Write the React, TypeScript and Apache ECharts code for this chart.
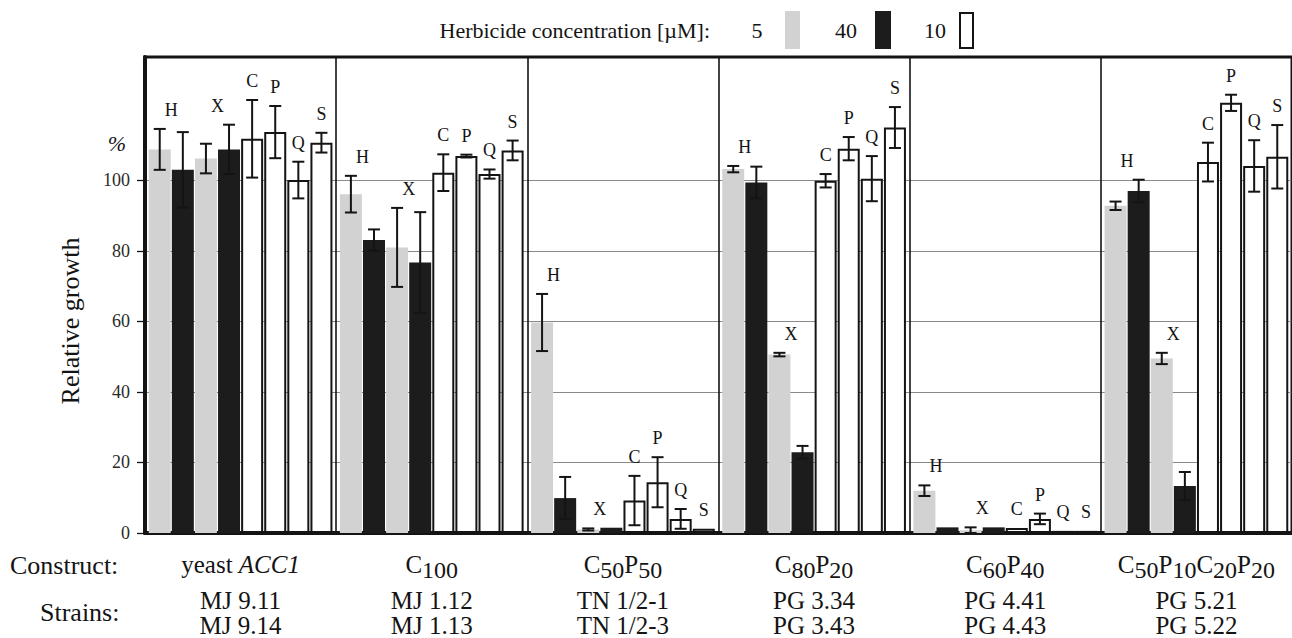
import React, { useEffect, useRef } from 'react';
import * as echarts from 'echarts';

// ---------- data ----------
const constructs = ['yeast ACC1', 'C100', 'C50P50', 'C80P20', 'C60P40', 'C50P10C20P20'];
const strainsA = ['MJ 9.11', 'MJ 1.12', 'TN 1/2-1', 'PG 3.34', 'PG 4.41', 'PG 5.21'];
const strainsB = ['MJ 9.14', 'MJ 1.13', 'TN 1/2-3', 'PG 3.43', 'PG 4.43', 'PG 5.22'];
const yTicks = [0, 20, 40, 60, 80, 100];
const concentrations = ['5', '40', '10'];

// herbicides H and X at 5 and 40 µM; C, P, Q, S at 10 µM
const h5 = [108.8, 96.1, 59.7, 103.2, 12.0, 92.8];
const h5Err = [5.8, 5.2, 8.1, 0.9, 1.5, 1.2];
const h40 = [103.0, 83.1, 9.9, 99.4, 1.6, 97.0];
const h40Err = [10.7, 3.0, 6.0, 4.5, 0, 3.2];
const x5 = [106.2, 81.0, 1.0, 50.6, 0.8, 49.5];
const x5Err = [4.2, 11.2, 0.3, 0.5, 0.8, 1.6];
const x40 = [108.8, 76.7, 1.5, 22.9, 1.6, 13.3];
const x40Err = [7.0, 14.3, 0, 1.8, 0, 4.0];
const c10 = [111.8, 102.2, 9.2, 99.9, 1.4, 105.2];
const c10Err = [11.0, 5.2, 7.0, 1.9, 0, 5.5];
const p10 = [113.7, 106.9, 14.4, 109.0, 4.0, 122.0];
const p10Err = [7.4, 0.4, 7.1, 3.3, 1.5, 2.3];
const q10 = [100.1, 101.8, 4.0, 100.5, 0.6, 104.1];
const q10Err = [5.2, 1.3, 2.8, 6.4, 0, 7.3];
const s10 = [110.7, 108.5, 1.2, 115.0, 0.6, 106.7];
const s10Err = [2.8, 2.8, 0, 5.8, 0, 9.0];

const slotNames = ['H 5 µM', 'H 40 µM', 'X 5 µM', 'X 40 µM', 'C 10 µM', 'P 10 µM', 'Q 10 µM', 'S 10 µM'];
const slotValues = [h5, h40, x5, x40, c10, p10, q10, s10];
const slotErrors = [h5Err, h40Err, x5Err, x40Err, c10Err, p10Err, q10Err, s10Err];
const letters = ['H', 'X', 'C', 'P', 'Q', 'S'];
const letterSlots = [[0, 1], [2, 3], [4], [5], [6], [7]];

// ---------- style ----------
const FONT = 'Liberation Serif, Times New Roman, serif';
const INK = '#141414';
const LIGHT = '#d2d2d2';
const DARK = '#1c1c1c';
const BW = 22;
const GAP = 0.05;
const NS = 8;

const slotOffset = (s: number) => {
  const step = BW * (1 + GAP);
  const widthSum = NS * step - BW * GAP;
  return -widthSum / 2 + s * step + BW / 2;
};

const fillFor = (i: number) => (i < 4 ? (i % 2 === 0 ? LIGHT : DARK) : '#ffffff');

const constructRich = (name: string) => {
  if (name === 'yeast ACC1') return '{n|yeast }{i|ACC1}';
  return name.replace(/([A-Z])(\d+)/g, '{c|$1}{s|$2}');
};

const txt = (x: number, y: number, text: string, size: number, align: string, extra: any = {}) => ({
  type: 'text',
  x,
  y,
  ...extra,
  style: { text, fontSize: size, fontFamily: FONT, fill: INK, align, verticalAlign: 'middle', ...(extra.style || {}) },
});

function buildOption() {
  const barSeries = slotValues.map((vals, i) => ({
    name: slotNames[i],
    type: 'bar',
    data: vals,
    barWidth: BW,
    barGap: `${GAP * 100}%`,
    itemStyle: {
      color: fillFor(i),
      borderColor: i < 4 ? fillFor(i) : INK,
      borderWidth: i < 4 ? 0 : 2,
    },
    emphasis: { disabled: true },
    z: 2,
  }));

  const errData: number[][] = [];
  slotValues.forEach((vals, s) => {
    vals.forEach((v, g) => errData.push([g, v, slotErrors[s][g], s]));
  });

  const letterData: number[][] = [];
  constructs.forEach((_, g) => {
    letterSlots.forEach((slots, li) => {
      const top = Math.max(...slots.map((s) => slotValues[s][g] + slotErrors[s][g]));
      letterData.push([g, top, li]);
    });
  });

  const splitColors = yTicks.map(() => '#8a8a8a').concat(['rgba(0,0,0,0)', 'rgba(0,0,0,0)', 'rgba(0,0,0,0)']);

  const graphics: any[] = [
    txt(710, 30, 'Herbicide concentration [µM]:', 22, 'right'),
    txt(757, 30, concentrations[0], 22, 'center'),
    { type: 'rect', shape: { x: 785, y: 11, width: 15, height: 38 }, style: { fill: LIGHT } },
    txt(846, 30, concentrations[1], 22, 'center'),
    { type: 'rect', shape: { x: 875, y: 11, width: 16, height: 38 }, style: { fill: DARK } },
    txt(935, 30, concentrations[2], 22, 'center'),
    { type: 'rect', shape: { x: 960, y: 13, width: 13, height: 35 }, style: { fill: '#fff', stroke: INK, lineWidth: 2 } },
    txt(117, 143, '%', 22, 'center', { style: { fontStyle: 'italic' } }),
    txt(70, 321, 'Relative growth', 26, 'center', { rotation: Math.PI / 2 }),
    txt(10, 565, 'Construct:', 26, 'left'),
    txt(40, 612, 'Strains:', 26, 'left'),
  ];

  return {
    animation: false,
    backgroundColor: '#ffffff',
    textStyle: { fontFamily: FONT },
    grid: { left: 145, right: -12, top: 57, bottom: 105, show: true, borderColor: INK, borderWidth: 3 },
    xAxis: {
      type: 'category',
      data: constructs,
      axisLine: { lineStyle: { color: INK, width: 4 } },
      axisTick: { show: false },
      splitLine: { show: true, interval: 0, lineStyle: { color: INK, width: 1.6 } },
      axisLabel: {
        interval: 0,
        margin: 7,
        color: INK,
        fontFamily: FONT,
        formatter: (v: string, i: number) => `${constructRich(v)}\n{t|${strainsA[i]}}\n{t|${strainsB[i]}}`,
        rich: {
          n: { fontSize: 25, fontFamily: FONT, color: INK, lineHeight: 48 },
          i: { fontSize: 25, fontFamily: FONT, fontStyle: 'italic', color: INK, lineHeight: 48 },
          c: { fontSize: 25, fontFamily: FONT, color: INK, lineHeight: 48 },
          s: { fontSize: 24, fontFamily: FONT, color: INK, lineHeight: 48, padding: [12, 0, 0, 0] },
          t: { fontSize: 25, fontFamily: FONT, color: INK, lineHeight: 25 },
        },
      },
    },
    yAxis: {
      type: 'value',
      min: 0,
      max: 135,
      interval: 20,
      axisLine: { show: true, lineStyle: { color: INK, width: 4 } },
      axisTick: { show: true, length: 8, customValues: yTicks, lineStyle: { color: INK, width: 1.3 } },
      axisLabel: {
        customValues: yTicks,
        margin: 15,
        fontSize: 18,
        fontFamily: FONT,
        color: '#2a2a2a',
        formatter: (v: number) => (v <= 100 ? String(v) : ''),
      },
      splitLine: { show: true, lineStyle: { color: splitColors, width: 1 } },
    },
    graphic: { elements: graphics },
    series: [
      ...barSeries,
      {
        name: 'error bars',
        type: 'custom',
        clip: true,
        data: errData,
        encode: { x: 0, y: 1 },
        z: 3,
        renderItem: (_params: any, api: any) => {
          const g = api.value(0);
          const v = api.value(1);
          const e = api.value(2);
          const s = api.value(3);
          if (!e) return { type: 'group', children: [] };
          const cx = api.coord([g, v])[0] + slotOffset(s);
          const yt = api.coord([g, v + e])[1];
          const yb = api.coord([g, Math.max(v - e, 0)])[1];
          const hw = 6;
          const st = { stroke: INK, lineWidth: 2 };
          return {
            type: 'group',
            children: [
              { type: 'line', shape: { x1: cx, y1: yt, x2: cx, y2: yb }, style: st },
              { type: 'line', shape: { x1: cx - hw, y1: yt, x2: cx + hw, y2: yt }, style: st },
              { type: 'line', shape: { x1: cx - hw, y1: yb, x2: cx + hw, y2: yb }, style: st },
            ],
          };
        },
      },
      {
        name: 'letters',
        type: 'custom',
        data: letterData,
        encode: { x: 0, y: 1 },
        z: 4,
        renderItem: (_params: any, api: any) => {
          const g = api.value(0);
          const top = api.value(1);
          const li = api.value(2);
          const slots = letterSlots[li];
          const off = slots.reduce((a, s) => a + slotOffset(s), 0) / slots.length;
          const p = api.coord([g, top]);
          return {
            type: 'text',
            x: p[0] + off,
            y: p[1] - 19,
            style: { text: letters[li], fontSize: 18, fontFamily: FONT, fill: INK, align: 'center', verticalAlign: 'middle' },
          };
        },
      },
    ],
  };
}

export default function App() {
  const ref = useRef<HTMLDivElement>(null);
  useEffect(() => {
    if (!ref.current) return;
    const chart = echarts.init(ref.current, null, { renderer: 'svg' });
    chart.setOption(buildOption() as any);
    return () => chart.dispose();
  }, []);
  return (
    <div
      ref={ref}
      style={{ position: 'fixed', left: 0, top: 0, width: 1292, height: 638, background: '#fff' }}
    />
  );
}
